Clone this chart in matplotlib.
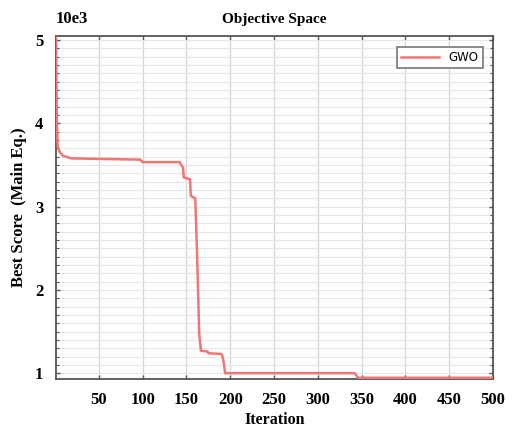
import matplotlib
matplotlib.use("Agg")
import matplotlib.pyplot as plt
from matplotlib.ticker import MultipleLocator

# convergence curve vertices (iteration, best score in units of 10e3)
iterations = [1, 2, 3, 5, 9, 19, 97, 100, 142, 146, 147, 154, 155, 160,
              162, 164.5, 166.5, 174, 175, 190, 191, 193, 194, 342, 346, 500]
best_score = [5.05, 4.0, 3.72, 3.66, 3.61, 3.58, 3.565, 3.535, 3.535, 3.47, 3.35, 3.33, 3.13, 3.1,
              2.48, 1.48, 1.27, 1.26, 1.24, 1.23, 1.21, 1.1, 1.0, 1.0, 0.945, 0.945]

x_ticks = [50, 100, 150, 200, 250, 300, 350, 400, 450, 500]
y_ticks = [1, 2, 3, 4, 5]

serif = ["Liberation Serif", "DejaVu Serif"]

fig = plt.figure(figsize=(5.15, 4.3), dpi=100)
ax = fig.add_axes([0.1087, 0.1186, 0.8486, 0.7977])

ax.plot(iterations, best_score, color="#f07676", lw=1.8, label="GWO", zorder=3)

ax.set_xlim(1, 500)
ax.set_ylim(0.93, 5.05)
ax.set_xticks(x_ticks)
ax.set_yticks(y_ticks)
ax.yaxis.set_minor_locator(MultipleLocator(0.1))

ax.grid(True, which="major", axis="x", color="#d4d4d4", lw=0.9)
ax.grid(True, which="both", axis="y", color="#e6e6e6", lw=0.8)
ax.set_axisbelow(True)

ax.tick_params(which="both", direction="in", top=True, right=True, color="#555555")
ax.tick_params(which="major", length=3, width=1)
ax.tick_params(which="minor", length=2, width=0.8)
for s in ax.spines.values():
    s.set_color("#555555")
    s.set_linewidth(1.3)

for lab in ax.get_xticklabels() + ax.get_yticklabels():
    lab.set_family(serif)
    lab.set_fontweight("bold")
    lab.set_fontsize(12)
ax.tick_params(axis="x", pad=9)
ax.tick_params(axis="y", pad=9)

ax.set_xlabel("Iteration", family=serif, fontweight="bold", fontsize=11.5, labelpad=3)
ax.set_ylabel("Best Score  (Main Eq.)", family=serif, fontweight="bold", fontsize=12, labelpad=6)
ax.set_title("Objective Space", family=serif, fontweight="bold", fontsize=11, pad=9)
ax.text(0.0, 1.025, "10e3", transform=ax.transAxes, family=serif, fontweight="bold",
        fontsize=12, ha="left", va="bottom")

leg = ax.legend(loc="upper right", fontsize=8.5, fancybox=False, framealpha=1,
                edgecolor="#777777", handlelength=3.2, borderpad=0.35,
                bbox_to_anchor=(0.99, 0.985))
leg.get_frame().set_linewidth(1.2)

fig.savefig("out.png", dpi=100)
